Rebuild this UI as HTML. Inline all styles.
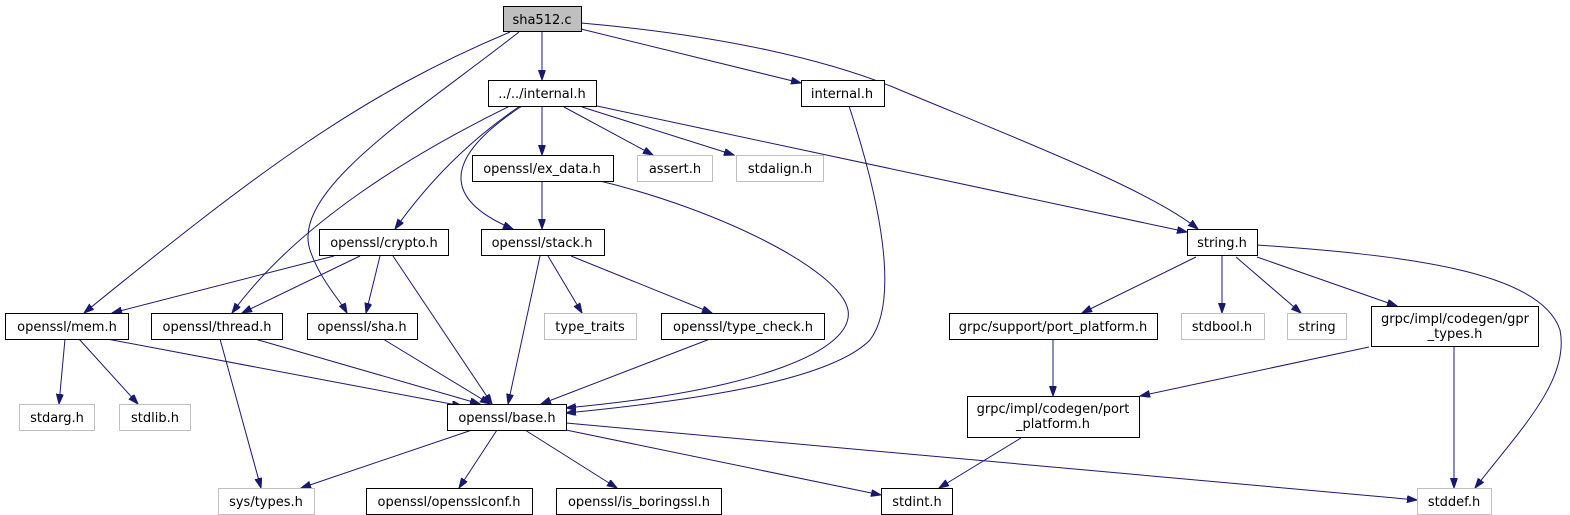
<!DOCTYPE html>
<html><head><meta charset="utf-8"><style>
html,body{margin:0;padding:0;background:#fff;}
svg{display:block;}
text{font-family:"DejaVu Sans","Liberation Sans",sans-serif;font-size:13px;fill:#000;}
.n{fill:#fff;stroke:#000;stroke-width:1;}
.g{fill:#fff;stroke:#bfbfbf;stroke-width:1;}
.e{fill:none;stroke:#191970;stroke-width:1;marker-end:url(#a);}
</style></head><body>
<svg width="1570" height="515" viewBox="0 0 1570 515" xmlns="http://www.w3.org/2000/svg">
<defs><marker id="a" markerUnits="userSpaceOnUse" markerWidth="11" markerHeight="8" refX="10" refY="3.5" orient="auto"><path d="M0,0 L10,3.5 L0,7 z" fill="#191970" stroke="#191970"/></marker></defs>

<!-- edges -->
<path class="e" d="M542,31 L542,80"/>
<path class="e" d="M581,29 L801,83"/>
<path class="e" d="M581,23 C720,35 830,60 900,90 C1020,140 1150,190 1198,229"/>
<path class="e" d="M510,32 C360,95 260,170 84,313"/>
<path class="e" d="M519,32 C420,110 290,190 310,250 C320,280 340,300 347,313"/>
<path class="e" d="M510,106 C420,150 300,220 232,313"/>
<path class="e" d="M520,106 C470,140 430,180 395,229"/>
<path class="e" d="M522,106 C470,140 420,190 513,229"/>
<path class="e" d="M542,106 L542,155"/>
<path class="e" d="M564,107 L653,155"/>
<path class="e" d="M582,107 L734,155"/>
<path class="e" d="M597,106 L1187,232"/>
<path class="e" d="M849,106 C880,200 900,300 870,340 C830,380 700,400 566,413"/>
<path class="e" d="M542,181 L542,229"/>
<path class="e" d="M600,181 C720,210 840,270 848,310 C855,350 760,390 566,408"/>
<path class="e" d="M1196,257 L1082,313"/>
<path class="e" d="M1222,256 L1222,313"/>
<path class="e" d="M1236,257 L1301,313"/>
<path class="e" d="M1257,257 L1397,306"/>
<path class="e" d="M1257,245 C1400,255 1540,270 1560,330 C1570,380 1520,430 1475,488"/>
<path class="e" d="M334,256 L112,313"/>
<path class="e" d="M360,256 L242,313"/>
<path class="e" d="M380,256 L366,313"/>
<path class="e" d="M393,256 L492,404"/>
<path class="e" d="M540,256 L508,404"/>
<path class="e" d="M548,256 L582,313"/>
<path class="e" d="M571,256 L712,313"/>
<path class="e" d="M65,339 L59,404"/>
<path class="e" d="M79,339 L138,404"/>
<path class="e" d="M107,339 L462,406"/>
<path class="e" d="M255,339 L480,404"/>
<path class="e" d="M220,339 L261,488"/>
<path class="e" d="M383,339 L490,404"/>
<path class="e" d="M710,339 L541,404"/>
<path class="e" d="M472,430 L301,488"/>
<path class="e" d="M497,430 L459,488"/>
<path class="e" d="M525,430 L617,488"/>
<path class="e" d="M566,430 L881,495"/>
<path class="e" d="M566,423 L1417,500"/>
<path class="e" d="M1053,339 L1053,396"/>
<path class="e" d="M1369,347 L1140,396"/>
<path class="e" d="M1454,346 L1454,488"/>
<path class="e" d="M1021,438 L939,488"/>

<!-- nodes -->
<rect x="503.5" y="6.5" width="78" height="25" fill="#bfbfbf" stroke="#000"/><text x="542" y="24" text-anchor="middle">sha512.c</text>
<rect class="n" x="488.5" y="80.5" width="108" height="26"/><text x="542" y="98" text-anchor="middle">../../internal.h</text>
<rect class="n" x="801.5" y="80.5" width="83" height="26"/><text x="842" y="98" text-anchor="middle">internal.h</text>
<rect class="n" x="472.5" y="155.5" width="141" height="26"/><text x="542" y="173" text-anchor="middle">openssl/ex_data.h</text>
<rect class="g" x="637.5" y="155.5" width="75" height="26"/><text x="675" y="173" text-anchor="middle">assert.h</text>
<rect class="g" x="736.5" y="155.5" width="87" height="26"/><text x="780" y="173" text-anchor="middle">stdalign.h</text>
<rect class="n" x="1187.5" y="229.5" width="70" height="26"/><text x="1222" y="247" text-anchor="middle">string.h</text>
<rect class="n" x="319.5" y="229.5" width="129" height="26"/><text x="384" y="247" text-anchor="middle">openssl/crypto.h</text>
<rect class="n" x="481.5" y="229.5" width="123" height="26"/><text x="542" y="247" text-anchor="middle">openssl/stack.h</text>
<rect class="n" x="5.5" y="313.5" width="123" height="26"/><text x="67" y="331" text-anchor="middle">openssl/mem.h</text>
<rect class="n" x="151.5" y="313.5" width="131" height="26"/><text x="217" y="331" text-anchor="middle">openssl/thread.h</text>
<rect class="n" x="307.5" y="313.5" width="110" height="26"/><text x="362" y="331" text-anchor="middle">openssl/sha.h</text>
<rect class="g" x="544.5" y="313.5" width="92" height="26"/><text x="590" y="331" text-anchor="middle">type_traits</text>
<rect class="n" x="661.5" y="313.5" width="163" height="26"/><text x="743" y="331" text-anchor="middle">openssl/type_check.h</text>
<rect class="n" x="949.5" y="313.5" width="208" height="26"/><text x="1053" y="331" text-anchor="middle">grpc/support/port_platform.h</text>
<rect class="g" x="1181.5" y="313.5" width="83" height="26"/><text x="1222" y="331" text-anchor="middle">stdbool.h</text>
<rect class="g" x="1287.5" y="313.5" width="59" height="26"/><text x="1317" y="331" text-anchor="middle">string</text>
<rect class="n" x="1371.5" y="306.5" width="167" height="40"/><text x="1455" y="323" text-anchor="middle">grpc/impl/codegen/gpr</text><text x="1455" y="338" text-anchor="middle">_types.h</text>
<rect class="n" x="447.5" y="404.5" width="119" height="26"/><text x="507" y="422" text-anchor="middle">openssl/base.h</text>
<rect class="g" x="19.5" y="404.5" width="75" height="26"/><text x="57" y="422" text-anchor="middle">stdarg.h</text>
<rect class="g" x="119.5" y="404.5" width="71" height="26"/><text x="155" y="422" text-anchor="middle">stdlib.h</text>
<rect class="n" x="967.5" y="396.5" width="172" height="41"/><text x="1053" y="413" text-anchor="middle">grpc/impl/codegen/port</text><text x="1053" y="428" text-anchor="middle">_platform.h</text>
<rect class="g" x="218.5" y="488.5" width="96" height="26"/><text x="266" y="506" text-anchor="middle">sys/types.h</text>
<rect class="n" x="366.5" y="488.5" width="166" height="26"/><text x="449" y="506" text-anchor="middle">openssl/opensslconf.h</text>
<rect class="n" x="556.5" y="488.5" width="165" height="26"/><text x="639" y="506" text-anchor="middle">openssl/is_boringssl.h</text>
<rect class="n" x="881.5" y="488.5" width="71" height="26"/><text x="917" y="506" text-anchor="middle">stdint.h</text>
<rect class="g" x="1417.5" y="488.5" width="74" height="26"/><text x="1454" y="506" text-anchor="middle">stddef.h</text>
</svg>
</body></html>
